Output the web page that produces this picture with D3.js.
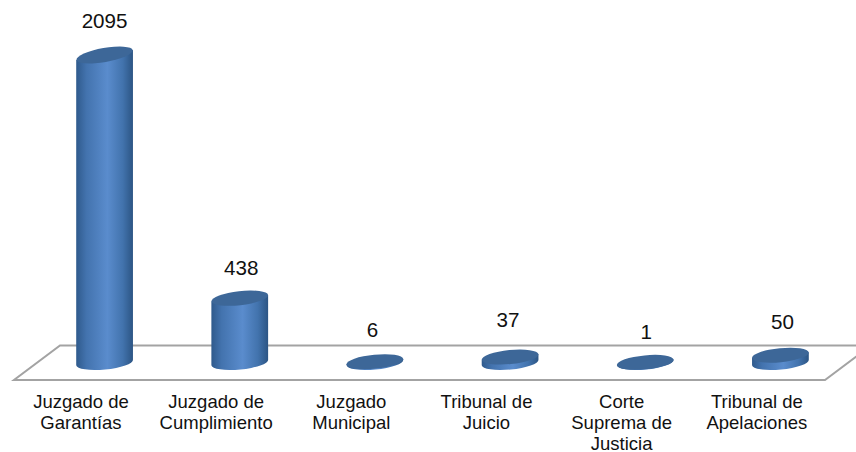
<!DOCTYPE html>
<html>
<head>
<meta charset="utf-8">
<script src="https://cdn.jsdelivr.net/npm/d3@7"></script>
<style>
  html, body { margin: 0; padding: 0; background: #fff; }
  svg { display: block; }
  text { font-family: "Liberation Sans", Arial, sans-serif; fill: #111; }
</style>
</head>
<body>
<svg id="chart" width="856" height="452"></svg>
<script>
const categories = ["Juzgado de Garantías", "Juzgado de Cumplimiento", "Juzgado Municipal", "Tribunal de Juicio", "Corte Suprema de Justicia", "Tribunal de Apelaciones"];
const categoryLines = [["Juzgado de", "Garantías"], ["Juzgado de", "Cumplimiento"], ["Juzgado", "Municipal"], ["Tribunal de", "Juicio"], ["Corte", "Suprema de", "Justicia"], ["Tribunal de", "Apelaciones"]];
const values = [2095, 438, 6, 37, 1, 50];
// the original value labels were placed by hand, these are their offsets from the bar top
const labelGaps = [34, 31, 32, 37, 31, 34];
const labelShifts = [0, 1.5, -2.5, -2, 1, 2];

const svg = d3.select("#chart");

const floor = { left: 14, right: 825, front: 380, back: 345.5, depth: 46 };

// category labels follow the front edge of the floor, bars stand half way back
const xFront = d3.scaleBand().domain(categories).range([floor.left, floor.right]).padding(0);
const xBar = d3.scaleBand().domain(categories).range([floor.left + floor.depth / 2, floor.right + floor.depth / 2]).padding(0);
const y = d3.scaleLinear().domain([0, 2095]).range([362.5, 55]);

const barRx = 28.5;
const barRy = 7;

const defs = svg.append("defs");
const grad = defs.append("linearGradient").attr("id", "barBody").attr("x1", 0).attr("x2", 1).attr("y1", 0).attr("y2", 0);
grad.append("stop").attr("offset", "0%").attr("stop-color", "#2f5a8c");
grad.append("stop").attr("offset", "18%").attr("stop-color", "#4373ae");
grad.append("stop").attr("offset", "55%").attr("stop-color", "#5a8ccd");
grad.append("stop").attr("offset", "82%").attr("stop-color", "#4273ad");
grad.append("stop").attr("offset", "100%").attr("stop-color", "#2c5584");

// floor
const floorPoints = [
  [floor.left, floor.front],
  [floor.right, floor.front],
  [floor.right + floor.depth, floor.back],
  [floor.left + floor.depth, floor.back]
];
svg.append("polygon")
  .attr("points", floorPoints.map(p => p.join(",")).join(" "))
  .attr("fill", "#fff")
  .attr("stroke", "#a3a3a3")
  .attr("stroke-width", 2);

// perspective makes the top of a tall bar look more tilted than its foot
const tilt = d3.scaleLinear().domain([0, 2095]).range([5.5, 10]);

function bodyPath(d, i) {
  const cx = xBar(categories[i]) + xBar.bandwidth() / 2;
  const top = y(d);
  const base = y(0);
  const a = tilt(d) * Math.PI / 180;
  const a0 = tilt(0) * Math.PI / 180;
  const dx = barRx * Math.cos(a0);
  return "M" + (cx - dx) + "," + (top + barRx * Math.sin(a)) +
    "L" + (cx - dx) + "," + (base + barRx * Math.sin(a0)) +
    "A" + barRx + "," + barRy + " " + (-tilt(0)) + " 0 0 " + (cx + dx) + "," + (base - barRx * Math.sin(a0)) +
    "L" + (cx + dx) + "," + (top - barRx * Math.sin(a)) + "Z";
}

const bars = svg.append("g").selectAll("g").data(values).join("g");

bars.append("path")
  .attr("d", bodyPath)
  .attr("fill", "url(#barBody)");

bars.append("ellipse")
  .attr("cx", 0)
  .attr("cy", 0)
  .attr("rx", barRx)
  .attr("ry", barRy)
  .attr("transform", (d, i) => `translate(${xBar(categories[i]) + xBar.bandwidth() / 2},${y(d)}) rotate(${-tilt(d)})`)
  .attr("fill", "#3d6798");

// value labels
svg.append("g").selectAll("text").data(values).join("text")
  .attr("x", (d, i) => xBar(categories[i]) + xBar.bandwidth() / 2 + labelShifts[i])
  .attr("y", (d, i) => y(d) - labelGaps[i])
  .attr("dy", "0.36em")
  .attr("text-anchor", "middle")
  .attr("font-size", 20.6)
  .text(d => d);

// category axis, no line or ticks, labels wrapped by hand as in the original
const axis = d3.axisBottom(xFront).tickSize(0).tickPadding(0);
const axisG = svg.append("g").call(axis);
axisG.select(".domain").remove();
axisG.selectAll(".tick text").remove();
axisG.selectAll(".tick").append("text")
  .attr("text-anchor", "middle")
  .attr("font-size", 18.5)
  .attr("font-family", "Liberation Sans, Arial, sans-serif")
  .each(function (d) {
    const lines = categoryLines[categories.indexOf(d)];
    d3.select(this).selectAll("tspan").data(lines).join("tspan")
      .attr("x", -0.6)
      .attr("y", (l, i) => 408 + i * 21)
      .text(l => l);
  });
</script>
</body>
</html>
